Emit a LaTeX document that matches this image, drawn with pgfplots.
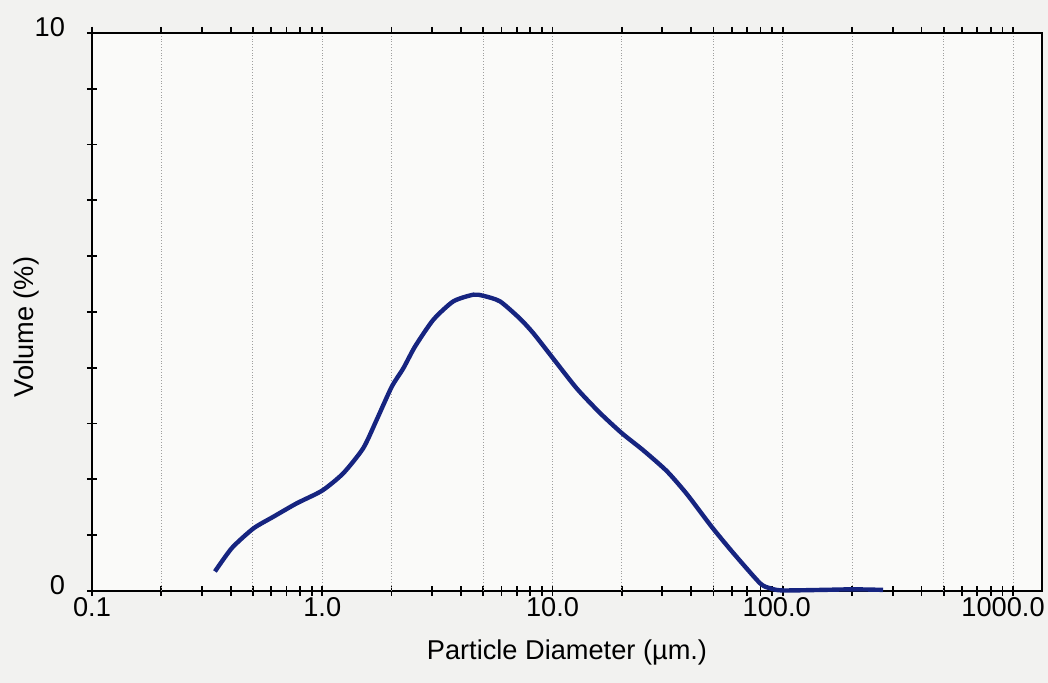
\documentclass[border=0pt]{standalone}
\usepackage{fontspec}
\setmainfont{Liberation Sans}
\usepackage{pgfplots}
\pgfplotsset{compat=1.18}
\definecolor{curve}{RGB}{22,36,128}
\definecolor{paper}{RGB}{242,242,240}
\definecolor{plotbg}{RGB}{250,250,249}
\begin{document}
\begin{tikzpicture}
\fill[paper] (-46pt,-46pt) rectangle (478pt,295.5pt);
\begin{axis}[
  at={(0,0)}, anchor=south west,
  scale only axis, width=475pt, height=279pt,
  xmode=log, xmin=0.1, xmax=1336, ymin=0, ymax=10,
  axis background/.style={fill=plotbg},
  axis line style={black, line width=1pt},
  xtick={0.1,1,10,100,1000},
  xticklabels={0.1,1.0,10.0,\hspace*{-6pt}100.0,\hspace*{-10pt}1000.0},
  ytick={0,10}, yticklabels={0,10},
  minor ytick={1,2,...,9},
  xtick pos=bottom, ytick pos=left,
  tick align=center,
  major tick length=5pt, minor tick length=5pt,
  tick style={black, line width=0.9pt},
  every tick label/.append style={font=\fontsize{13.6}{16}\selectfont},
  xticklabel style={anchor=north, yshift=3pt},
  yticklabel style={anchor=east, xshift=-7.5pt, yshift=3pt},
  xmajorgrids=true,
  extra x ticks={0.2,0.5,2,5,20,50,200,500},
  extra x tick labels={},
  extra x tick style={grid=major, major tick length=0pt},
  major grid style={densely dotted, gray!75, line width=0.5pt},
  xlabel={Particle Diameter (µm.)},
  ylabel={Volume (\%)},
  label style={font=\fontsize{13.6}{16}\selectfont},
  xlabel style={at={(axis description cs:0.5,-0.1093)}, anchor=center},
  ylabel style={at={(axis description cs:-0.0695,0.473)}, anchor=center},
  clip=false,
]
\addplot[curve, line width=2.2pt, smooth, tension=0.4] coordinates {
(0.342,0.35)
(0.405,0.77)
(0.502,1.12)
(0.613,1.33)
(0.774,1.57)
(1.0,1.80)
(1.234,2.11)
(1.507,2.56)
(1.724,3.07)
(2.003,3.66)
(2.249,3.99)
(2.528,4.38)
(3.035,4.86)
(3.708,5.19)
(4.53,5.31)
(5.006,5.29)
(5.916,5.19)
(7.225,4.88)
(8.254,4.62)
(9.92,4.20)
(12.74,3.63)
(16.08,3.19)
(19.98,2.83)
(24.8,2.52)
(31.33,2.15)
(38.27,1.74)
(49.13,1.15)
(60.99,0.68)
(79.62,0.14)
(88.0,0.05)
(99.2,0.01)
(150,0.02)
(201.8,0.03)
(272.5,0.02)
};
\end{axis}
\begin{axis}[
  at={(0,0)}, anchor=south west,
  scale only axis, width=475pt, height=279pt,
  xmode=log, xmin=0.1, xmax=1336, ymin=0, ymax=10,
  axis x line*=top, axis y line=none,
  axis line style={black, line width=1pt},
  xtick={0.1,1,10,100,1000}, xticklabels={},
  tick align=outside,
  major tick length=3pt, minor tick length=3pt,
  tick style={black, line width=0.9pt},
]
\end{axis}
\pgfresetboundingbox
\path[use as bounding box] (-46pt,-46pt) rectangle (478pt,295.5pt);
\end{tikzpicture}
\end{document}
